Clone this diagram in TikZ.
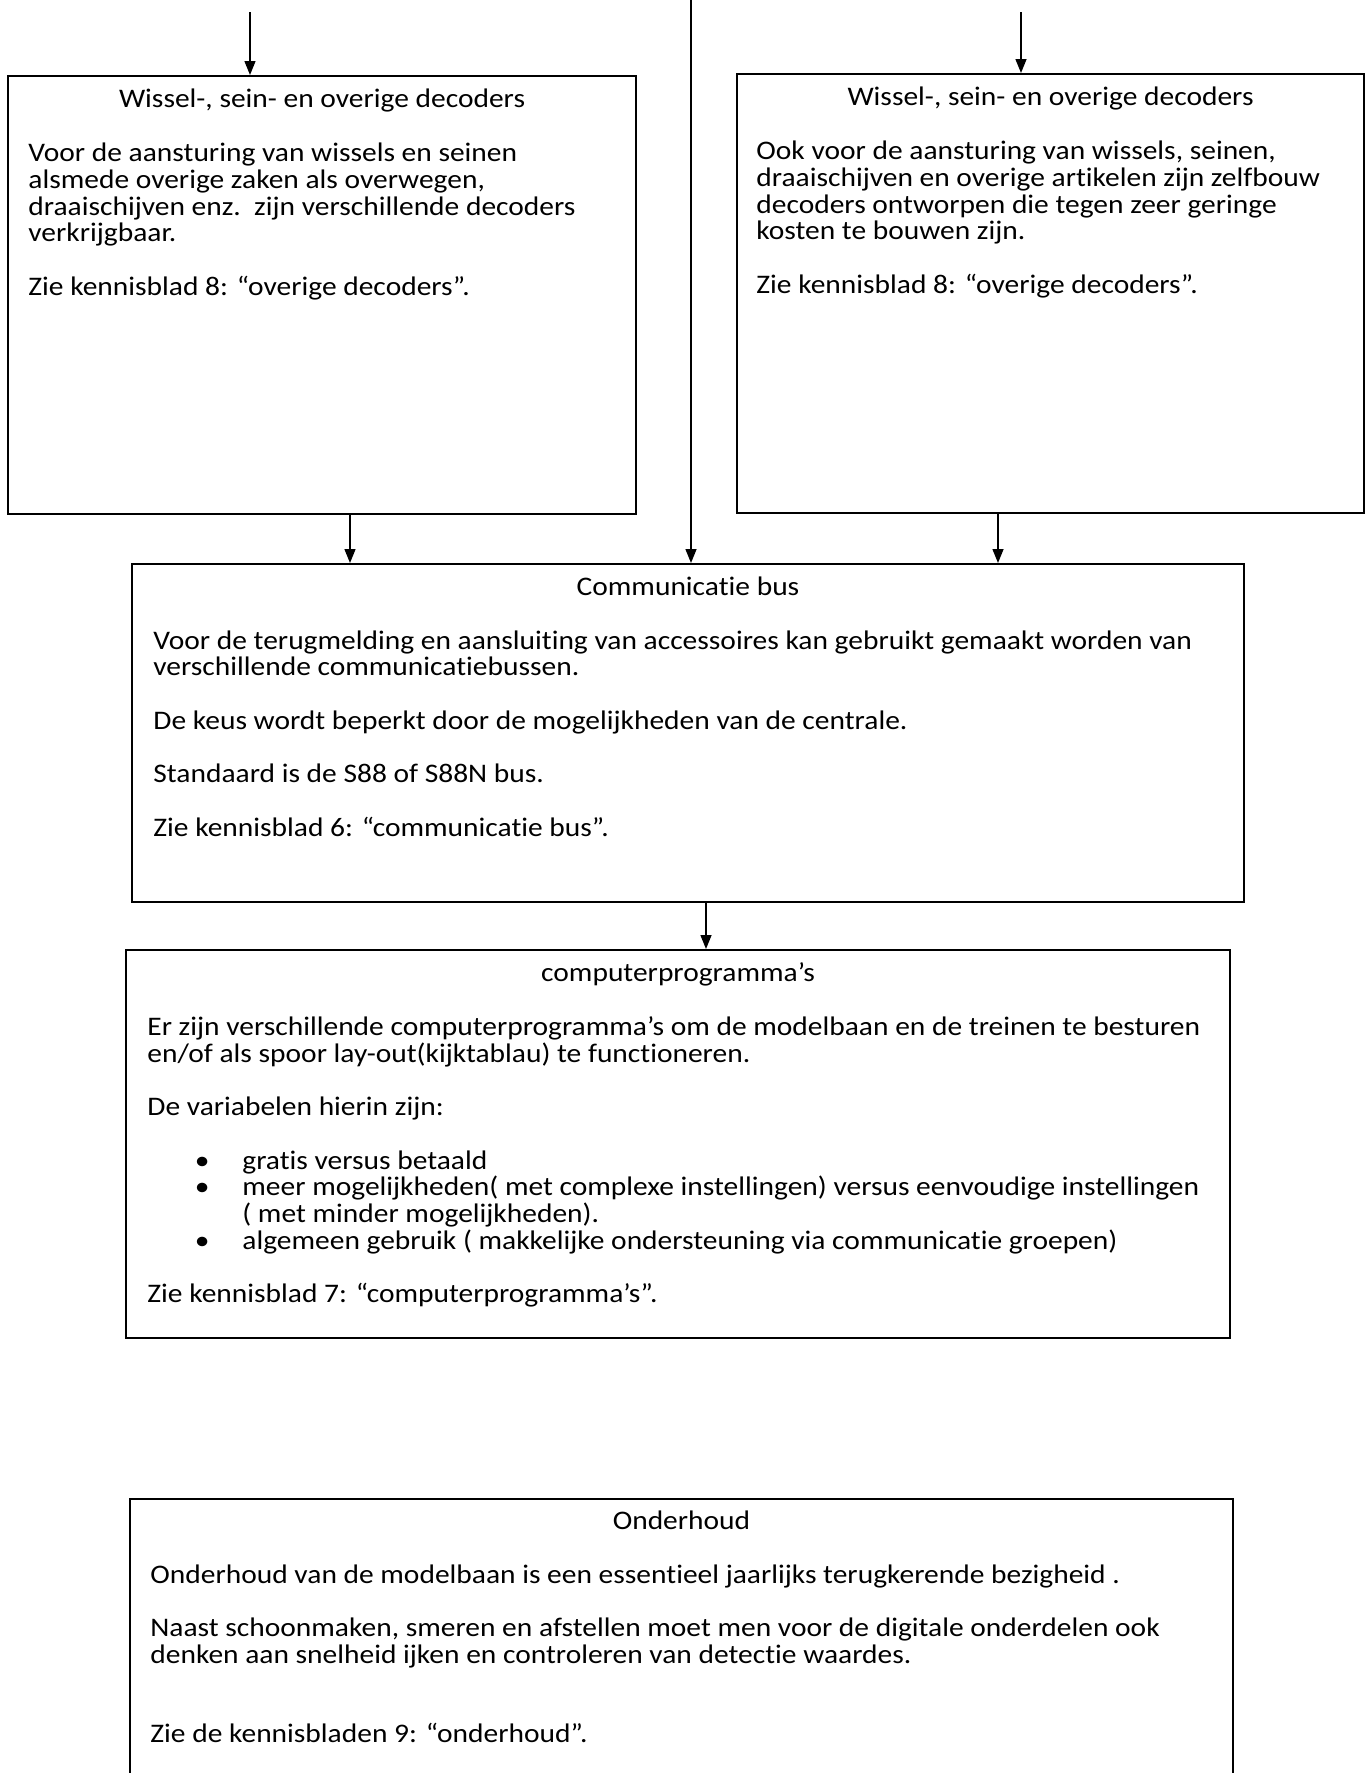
\documentclass[tikz,border=0pt]{standalone}
\usepackage{fontspec}
\setmainfont{Carlito}[Ligatures=NoCommon,FakeStretch=1.1]
\usetikzlibrary{positioning,arrows.meta}
\definecolor{Ink}{HTML}{000000}

\begin{document}
\begin{tikzpicture}[x=0.5pt,y=0.5pt,
    box/.style={draw=Ink,line width=1pt,anchor=north west,inner sep=0pt},
    ttl/.style={anchor=north,inner sep=0pt,text=Ink,font=\fontsize{13.4}{13.35}\selectfont,execute at begin node=\strut},
    txt/.style={anchor=north west,inner sep=0pt,align=left,text=Ink,font=\fontsize{13.4}{13.35}\selectfont,execute at begin node=\strut},
    arr/.style={draw=Ink,line width=0.7pt,-{Triangle[length=7pt,width=5.5pt]}}]
  \useasboundingbox (0,0) rectangle (1368,-1773);

  % boxes
  \node[box,minimum width=314pt,minimum height=219pt] (lbox) at (7,-75) {};
  \node[box,minimum width=313.5pt,minimum height=219.5pt] (rbox) at (736,-73) {};
  \node[box,minimum width=556pt,minimum height=169pt] (comm) at (131,-563) {};
  \node[box,minimum width=552pt,minimum height=194pt] (comp) at (125,-949) {};
  \node[box,minimum width=551.5pt,minimum height=145pt] (onder) at (129,-1498) {};

  % titles
  \node[ttl,below=6.8pt of lbox.north] (lttl) {Wissel-, sein- en overige decoders};
  \node[ttl,below=6.8pt of rbox.north] (rttl) {Wissel-, sein- en overige decoders};
  \node[ttl,below=6.6pt of comm.north] (commttl) {Communicatie bus};
  \node[ttl,below=6.6pt of comp.north] (compttl) {computerprogramma’s};
  \node[ttl,below=6.2pt of onder.north] (onderttl) {Onderhoud};

  % texts
  \node[txt,below right=33.8pt and 10.5pt of lbox.north west] (ltxt) {Voor de aansturing van wissels en seinen\\
    alsmede overige zaken als overwegen,\\
    draaischijven enz.\ \ zijn verschillende decoders\\
    verkrijgbaar.\\[13.35pt]
    Zie kennisblad 8: “overige decoders”.};
  \node[txt,below right=33.8pt and 10pt of rbox.north west] (rtxt) {Ook voor de aansturing van wissels, seinen,\\
    draaischijven en overige artikelen zijn zelfbouw\\
    decoders ontworpen die tegen zeer geringe\\
    kosten te bouwen zijn.\\[13.35pt]
    Zie kennisblad 8: “overige decoders”.};
  \node[txt,below right=33.6pt and 11pt of comm.north west] (commtxt) {Voor de terugmelding en aansluiting van accessoires kan gebruikt gemaakt worden van\\
    verschillende communicatiebussen.\\[13.35pt]
    De keus wordt beperkt door de mogelijkheden van de centrale.\\[13.35pt]
    Standaard is de S88 of S88N bus.\\[13.35pt]
    Zie kennisblad 6: “communicatie bus”.};
  \node[txt,below right=33.6pt and 11pt of comp.north west] (comptxt) {Er zijn verschillende computerprogramma’s om de modelbaan en de treinen te besturen\\
    en/of als spoor lay-out(kijktablau) te functioneren.\\[13.35pt]
    De variabelen hierin zijn:\\[13.35pt]
    \hspace*{23.75pt}\makebox[23.75pt][l]{\textbullet}gratis versus betaald\\
    \hspace*{23.75pt}\makebox[23.75pt][l]{\textbullet}meer mogelijkheden( met complexe instellingen) versus eenvoudige instellingen\\
    \hspace*{47.5pt}( met minder mogelijkheden).\\
    \hspace*{23.75pt}\makebox[23.75pt][l]{\textbullet}algemeen gebruik ( makkelijke ondersteuning via communicatie groepen)\\[13.35pt]
    Zie kennisblad 7: “computerprogramma’s”.};
  \node[txt,below right=33pt and 10.5pt of onder.north west] (ondertxt) {Onderhoud van de modelbaan is een essentieel jaarlijks terugkerende bezigheid .\\[13.35pt]
    Naast schoonmaken, smeren en afstellen moet men voor de digitale onderdelen ook\\
    denken aan snelheid ijken en controleren van detectie waardes.\\[26.2pt]
    Zie de kennisbladen 9: “onderhoud”.};

  % connectors
  \coordinate (inL) at ([xshift=-36pt,yshift=31.5pt]lbox.north);
  \coordinate (inR) at ([xshift=-14.75pt,yshift=30.5pt]rbox.north);
  \coordinate (inM) at (691,0);
  \coordinate (lout) at ([xshift=14pt]lbox.south);
  \coordinate (rout) at ([xshift=-26.25pt]rbox.south);
  \coordinate (commout) at ([xshift=9pt]comm.south);
  \draw[arr] (inL) -- (inL |- lbox.north);
  \draw[arr] (inR) -- (inR |- rbox.north);
  \draw[arr] (inM) -- (inM |- comm.north);
  \draw[arr] (lout) -- (lout |- comm.north);
  \draw[arr] (rout) -- (rout |- comm.north);
  \draw[arr] (commout) -- (commout |- comp.north);
\end{tikzpicture}
\end{document}
